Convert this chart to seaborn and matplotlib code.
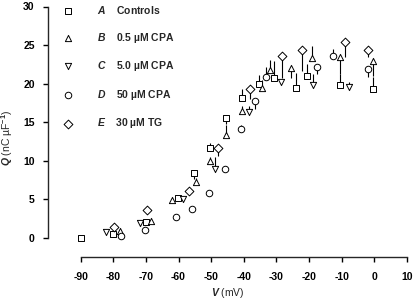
import numpy as np
import matplotlib.pyplot as plt
import seaborn as sns

# values: V (mV), Q (nC/uF), one-sided error (+ up, - down)
v_a = [-90.0, -80.1, -70.1, -60.3, -55.4, -50.3, -45.5, -40.5, -35.4, -30.6, -24.1, -20.5, -10.6, -0.4]
q_a = [0.0, 0.5, 2.1, 5.2, 8.4, 11.7, 15.6, 18.2, 19.9, 20.7, 19.5, 21.0, 19.8, 19.3]
e_a = [0, 0, 0, 0, -0.8, 0.6, -0.8, 1.1, 1.2, 2.3, 1.9, 1.5, 1.5, 1.6]

v_b = [-77.9, -68.3, -62.0, -54.6, -50.3, -45.4, -40.5, -34.4, -32.0, -25.5, -19.2, -10.5, -0.3]
q_b = [0.9, 2.2, 4.9, 7.2, 10.0, 13.4, 16.5, 19.4, 21.8, 22.0, 23.3, 23.5, 22.9]
e_b = [0, 0, 0, 0.6, 0.5, 1.2, 0.6, 1.1, 1.3, -1.3, 1.6, -2.2, -1.9]

v_c = [-82.1, -71.7, -58.5, -48.7, -38.4, -28.6, -18.8, -7.9]
q_c = [0.8, 2.0, 5.1, 9.0, 16.3, 20.2, 19.8, 19.6]
e_c = [0, 0, 0, 1.5, 0.8, 0, 1.5, 0.6]

v_d = [-77.7, -70.4, -60.7, -55.8, -50.8, -45.9, -40.9, -36.5, -33.1, -17.6, -12.6, -2.0]
q_d = [0.3, 1.1, 2.7, 3.7, 5.8, 8.9, 14.1, 17.7, 20.9, 22.2, 23.6, 21.9]
e_d = [0, 0, 0, 0, 0, 0.4, 0.6, -1.0, 1.2, -0.9, 0.9, -1.0]

v_e = [-79.9, -69.7, -56.9, -47.9, -38.1, -28.4, -22.1, -9.0, -1.8]
q_e = [1.4, 3.6, 6.1, 11.6, 19.3, 23.6, 24.4, 25.4, 24.4]
e_e = [0, 0, 0, -1.0, -1.3, -2.9, -2.8, -1.9, -0.9]

letters = ["A", "B", "C", "D", "E"]
names = ["Controls", "0.5 µM CPA", "5.0 µM CPA", "50 µM CPA", "30 µM TG"]
markers = ["s", "^", "v", "o", "D"]
sizes = [18, 20, 20, 22, 20]

sns.set_style("ticks")
plt.rcParams["font.family"] = ["Liberation Sans", "DejaVu Sans"]
plt.rcParams["font.weight"] = "bold"
plt.rcParams["font.size"] = 7.5
plt.rcParams["axes.unicode_minus"] = False
plt.rcParams["mathtext.fontset"] = "custom"
plt.rcParams["mathtext.rm"] = "Liberation Sans:bold"
plt.rcParams["mathtext.bf"] = "Liberation Sans:bold"
plt.rcParams["mathtext.it"] = "Liberation Sans:bold:italic"
plt.rcParams["mathtext.bfit"] = "Liberation Sans:bold:italic"
plt.rcParams["mathtext.default"] = "bf"

fig = plt.figure(figsize=(4.14, 3.04), dpi=100)
ax = fig.add_axes([48 / 414, 1 - 257 / 304, 359 / 414, 250.5 / 304])

series = [(v_a, q_a, e_a), (v_b, q_b, e_b), (v_c, q_c, e_c), (v_d, q_d, e_d), (v_e, q_e, e_e)]
for i, (v, q, e) in enumerate(series):
    e = np.array(e)
    lo = np.where(e < 0, -e, 0)
    hi = np.where(e > 0, e, 0)
    ax.errorbar(v, q, yerr=[lo, hi], fmt="none", ecolor="black", elinewidth=0.8, capsize=0, zorder=2)
    sns.scatterplot(x=v, y=q, marker=markers[i], s=sizes[i], color="white", edgecolor="black",
                    linewidth=0.7, zorder=3, ax=ax,
                    label=r"$\mathit{" + letters[i] + "}$    " + names[i])

ax.set_xlim(-100, 10)
ax.set_ylim(-2.46, 30)
ax.set_xticks(range(-90, 11, 10))
ax.set_yticks(range(0, 31, 5))
ax.spines["left"].set_bounds(0, 30)
ax.spines["bottom"].set_bounds(-90, 10)
sns.despine(ax=ax)
for s in ["left", "bottom"]:
    ax.spines[s].set_linewidth(1.0)
ax.tick_params(length=3.6, width=1.0, color="black", labelcolor="black")
ax.tick_params(axis="x", pad=7)
ax.tick_params(axis="y", pad=6)

ax.set_xlabel(r"$\mathit{V}$ (mV)", labelpad=3)
ax.set_ylabel(r"$\mathit{Q}$ (nC µF$^{-1}$)")
ax.yaxis.set_label_coords(-0.092, 0.475)

ax.legend(loc="upper left", bbox_to_anchor=(0.027, 1.01), frameon=False, borderpad=0,
          borderaxespad=0, handletextpad=1.8, labelspacing=1.4, handlelength=2.0)

fig.savefig("out.png", dpi=100)
